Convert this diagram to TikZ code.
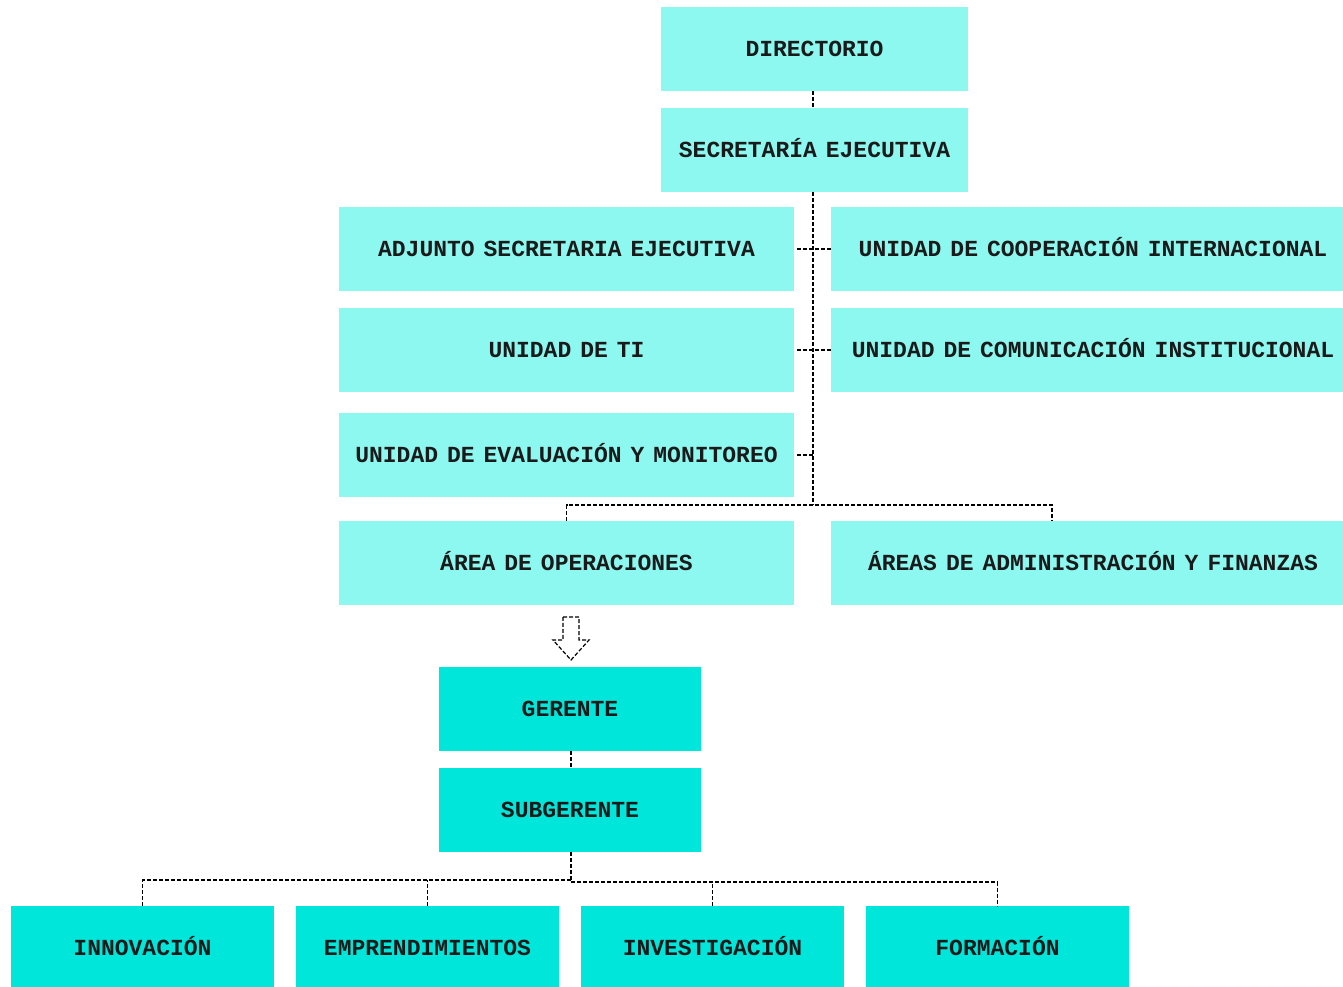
\documentclass[tikz,border=0pt]{standalone}
\usepackage{fontspec}
\setmonofont[WordSpace=0.65]{Liberation Mono}
\definecolor{unitcyan}{HTML}{8CF8F0}
\definecolor{opcyan}{HTML}{00E6DA}
\definecolor{inkgray}{HTML}{1A1A1A}
\tikzset{
  unit/.style={fill=unitcyan, inner sep=0pt, minimum height=42pt,
    text height=7.6pt, text depth=0pt,
    text=inkgray, font=\fontsize{11.5}{13}\ttfamily\bfseries},
  opunit/.style={unit, fill=opcyan, minimum width=131.5pt},
  link/.style={draw=black, line width=0.7pt, dash pattern=on 2pt off 1pt},
}
\begin{document}
\begin{tikzpicture}[x=0.5pt,y=-0.5pt]
\useasboundingbox (0,0) rectangle (1343,986);
\clip (0,0) rectangle (1343,986);
\node[unit, minimum width=153.5pt] (directorio) at (814.5,49) {DIRECTORIO};
\node[unit, minimum width=153.5pt] (secretaria) at (814.5,150) {SECRETARÍA EJECUTIVA};
\node[unit, minimum width=227.5pt] (adjunto) at (566.5,249) {ADJUNTO SECRETARIA EJECUTIVA};
\node[unit, minimum width=262pt] (cooperacion) at (1093,249) {UNIDAD DE COOPERACIÓN INTERNACIONAL};
\node[unit, minimum width=227.5pt] (ti) at (566.5,350) {UNIDAD DE TI};
\node[unit, minimum width=262pt] (comunicacion) at (1093,350) {UNIDAD DE COMUNICACIÓN INSTITUCIONAL};
\node[unit, minimum width=227.5pt] (evaluacion) at (566.5,455) {UNIDAD DE EVALUACIÓN Y MONITOREO};
\node[unit, minimum width=227.5pt] (operaciones) at (566.5,563) {ÁREA DE OPERACIONES};
\node[unit, minimum width=262pt] (finanzas) at (1093,563) {ÁREAS DE ADMINISTRACIÓN Y FINANZAS};
\node[opunit, minimum width=131pt] (gerente) at (570,709) {GERENTE};
\node[opunit, minimum width=131pt] (subgerente) at (570,810) {SUBGERENTE};
\node[opunit] (innovacion) at (142.5,948) {INNOVACIÓN};
\node[opunit] (emprendimientos) at (427.5,948) {EMPRENDIMIENTOS};
\node[opunit] (investigacion) at (712.5,948) {INVESTIGACIÓN};
\node[opunit] (formacion) at (997.5,948) {FORMACIÓN};
% connectors
\coordinate (spine) at (813,505);
\coordinate (drop) at (1052,521);
\coordinate (fork) at (571,880);
\path[link] (directorio.south -| spine) -- (secretaria.north -| spine);
\path[link] (secretaria.south -| spine) -- (spine);
\path[link,shorten <=1.5pt] (adjunto.east) -- (cooperacion.west);
\path[link,shorten <=1.5pt] (ti.east) -- (comunicacion.west);
\path[link,shorten <=1.5pt] (evaluacion.east) -- (evaluacion.east -| spine);
\path[link] (operaciones.north) |- (drop |- spine) -- (drop);
\path[link] (gerente.south -| fork) -- (subgerente.north -| fork);
\path[link] (subgerente.south -| fork) -- (fork);
\path[link] (innovacion.north) |- (fork);
\path[link] (emprendimientos.north) -- (emprendimientos.north |- fork);
\path[link] ([yshift=-1pt]fork) -| (formacion.north);
\path[link] (investigacion.north) -- ([yshift=-1pt]investigacion.north |- fork);
% hollow arrow
\path[link, line width=0.6pt] (563,617) -- (579,617) -- (579,640) -- (589,640)
  -- (571,660) -- (553,640) -- (563,640) -- cycle;
\end{tikzpicture}
\end{document}
